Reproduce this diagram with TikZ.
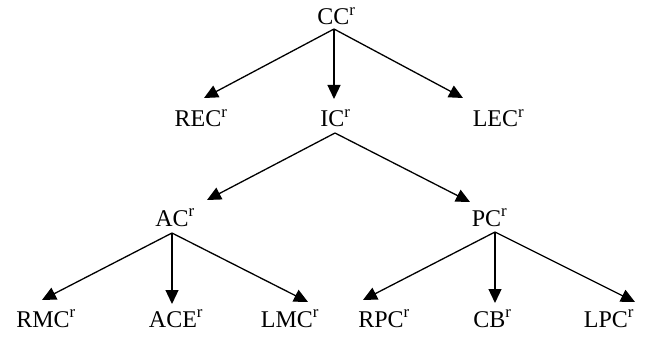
\documentclass[tikz,border=0pt]{standalone}
\usepackage{fontspec}
\setmainfont{Liberation Serif}
\usetikzlibrary{arrows.meta}
\begin{document}
\begin{tikzpicture}[x=1pt,y=-1pt,
  lbl/.style={anchor=base,inner sep=0pt,font=\fontsize{24}{28}\selectfont},
  edge/.style={line width=1.3pt,-{Triangle[length=14pt,width=13pt]}}]
\useasboundingbox (0,0) rectangle (646,337);

% labels
\node[lbl] (cc)  at (336.5,25) {CC\textsuperscript{r}};
\node[lbl] (rec) at (201,127)  {REC\textsuperscript{r}};
\node[lbl] (ic)  at (335.5,127) {IC\textsuperscript{r}};
\node[lbl] (lec) at (498.5,127) {LEC\textsuperscript{r}};
\node[lbl] (ac)  at (175,226)  {AC\textsuperscript{r}};
\node[lbl] (pc)  at (489.5,226) {PC\textsuperscript{r}};
\node[lbl] (rmc) at (46,327)   {RMC\textsuperscript{r}};
\node[lbl] (ace) at (176,327)  {ACE\textsuperscript{r}};
\node[lbl] (lmc) at (290,327)  {LMC\textsuperscript{r}};
\node[lbl] (rpc) at (384,327)  {RPC\textsuperscript{r}};
\node[lbl] (cb)  at (492.5,327) {CB\textsuperscript{r}};
\node[lbl] (lpc) at (609,327)  {LPC\textsuperscript{r}};

% branching points below parents
\coordinate (cc-out) at (334,29);
\coordinate (ic-out) at (335,133);
\coordinate (ac-out) at (172,233);
\coordinate (pc-out) at (495,232);

% arrow tips above children
\coordinate (rec-in) at (204,98);
\coordinate (ic-in)  at (334,99);
\coordinate (lec-in) at (463,98);
\coordinate (ac-in)  at (207,200);
\coordinate (pc-in)  at (470,202);
\coordinate (rmc-in) at (42,300);
\coordinate (ace-in) at (172,304);
\coordinate (lmc-in) at (308,302);
\coordinate (rpc-in) at (363,300);
\coordinate (cb-in)  at (495,303);
\coordinate (lpc-in) at (635,302);

% edges
\draw[edge] (cc-out) -- (rec-in);
\draw[edge] (cc-out) -- (ic-in);
\draw[edge] (cc-out) -- (lec-in);
\draw[edge] (ic-out) -- (ac-in);
\draw[edge] (ic-out) -- (pc-in);
\draw[edge] (ac-out) -- (rmc-in);
\draw[edge] (ac-out) -- (ace-in);
\draw[edge] (ac-out) -- (lmc-in);
\draw[edge] (pc-out) -- (rpc-in);
\draw[edge] (pc-out) -- (cb-in);
\draw[edge] (pc-out) -- (lpc-in);
\end{tikzpicture}
\end{document}
